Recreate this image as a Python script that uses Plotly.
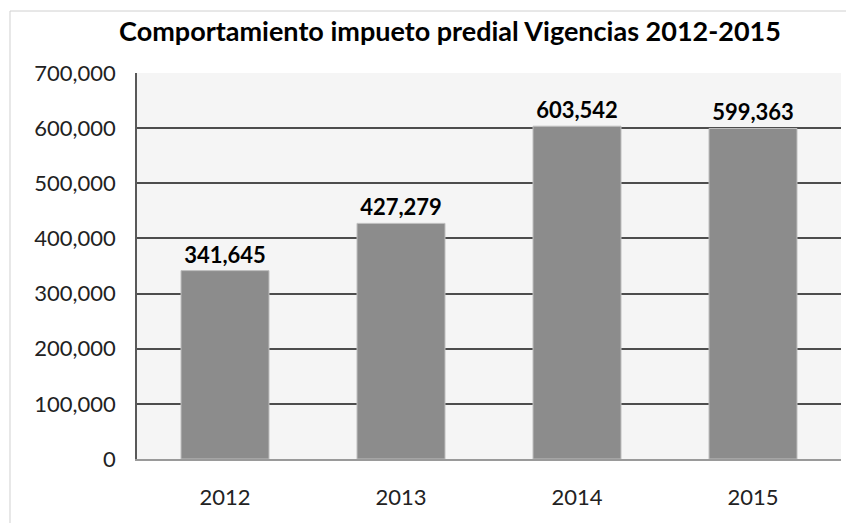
import plotly.graph_objects as go

years = ["2012", "2013", "2014", "2015"]
values = [341645, 427279, 603542, 599363]
labels = ["341,645", "427,279", "603,542", "599,363"]
y_ticks = [0, 100000, 200000, 300000, 400000, 500000, 600000, 700000]
y_tick_text = ["0", "100,000", "200,000", "300,000", "400,000", "500,000", "600,000", "700,000"]

font_family = "Lato, Open Sans, sans-serif"

fig = go.Figure()

fig.add_trace(
    go.Bar(
        x=years,
        y=values,
        width=0.5,
        marker=dict(color="#8c8c8c", line=dict(color="#bfbfbf", width=1)),
        text=labels,
        textposition="outside",
        textfont=dict(family=font_family, size=22, color="black", weight="bold"),
        cliponaxis=False,
    )
)

# outer chart border (only left and top visible in the crop)
fig.add_shape(
    type="line", xref="paper", yref="paper",
    x0=-0.1804, x1=1.03, y0=1.1606, y1=1.1606,
    line=dict(color="#d0d0d0", width=1),
)
fig.add_shape(
    type="line", xref="paper", yref="paper",
    x0=-0.1804, x1=-0.1804, y0=1.1606, y1=-0.3,
    line=dict(color="#d0d0d0", width=1),
)

# page body adds an 8px offset, so the figure is a bit smaller
fig.update_layout(
    width=846,
    height=515,
    margin=dict(l=129, r=13, t=65, b=64),
    paper_bgcolor="white",
    plot_bgcolor="#f5f5f5",
    showlegend=False,
    title=dict(
        text="<b>Comportamiento impueto predial Vigencias 2012-2015</b>",
        x=0.5225,
        xanchor="center",
        y=0.955,
        yanchor="middle",
        font=dict(family=font_family, size=27, color="black"),
    ),
    font=dict(family=font_family, size=22, color="#222222"),
)

fig.update_yaxes(
    range=[0, 700000],
    tickvals=y_ticks,
    ticktext=y_tick_text,
    showgrid=True,
    gridcolor="#4d4d4d",
    gridwidth=1.5,
    showline=True,
    linecolor="#595959",
    linewidth=1.5,
    ticks="",
    zeroline=False,
    ticklabelstandoff=15,
    tickfont=dict(size=22, color="#222222"),
)
fig.update_xaxes(
    showline=True,
    linecolor="#9a9a9a",
    linewidth=2,
    ticks="",
    ticklabelstandoff=18,
    tickfont=dict(size=22, color="#222222"),
)

fig.write_html("out.html")
